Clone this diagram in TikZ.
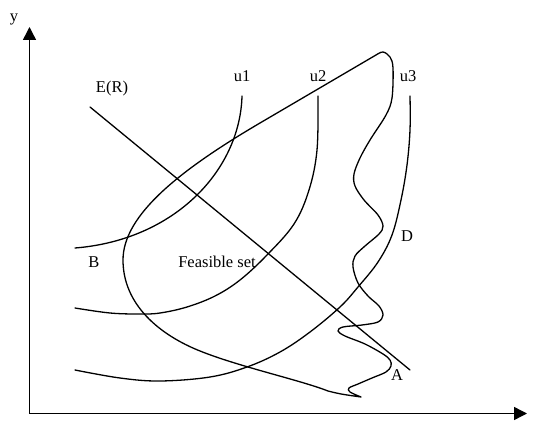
\documentclass[tikz,border=0pt]{standalone}
\usepackage{fontspec}
\setmainfont{Liberation Serif}
\usetikzlibrary{arrows.meta}
\begin{document}
\begin{tikzpicture}[x=1pt,y=-1pt,
  curve/.style={line width=1.3pt,line join=round,line cap=round},
  axis/.style={line width=1.4pt,-{Triangle[length=13pt,width=13pt]}},
  lbl/.style={anchor=base,inner sep=0pt,font=\fontsize{16.5}{18}\selectfont}]
\useasboundingbox (0,0) rectangle (534,430);
% axes
\coordinate (O) at (29.5,413.5);
\coordinate (Ytip) at (29.5,27);
\coordinate (Xtip) at (527,413.5);
\draw[axis] (O) -- (Ytip);
\draw[axis] (O) -- (Xtip);
\node[lbl] (ylab) at (14,22) {y};
% E(R) line
\coordinate (E1) at (90,107);
\coordinate (E2) at (410,370);
\draw[curve] (E1) -- (E2);
\node[lbl] (ER) at (112,93) {E(R)};
% indifference curves
\draw[curve] (242,96) .. controls (240,170) and (175,240) .. (75,248);
\draw[curve] plot[smooth,tension=0.6] coordinates {(318,96) (317,150) (309,190) (294,224) (267,255) (240,280) (215,296) (187,307) (160,313) (140,314) (110,313) (75,308)};
\draw[curve] plot[smooth,tension=0.6] coordinates {(410,96) (410,130) (407,165) (401,200) (392,235) (378,262) (358,287) (340,307) (310,332) (280,352) (247,367) (210,377) (160,381) (120,378) (75,370)};
\node[lbl] (u1) at (242,82) {u1};
\node[lbl] (u2) at (318,82) {u2};
\node[lbl] (u3) at (408,82) {u3};
% feasible set
\draw[curve] (376,55) -- (260,123)
  .. controls (180,170) and (123,215) .. (123,260)
  .. controls (123,305) and (160,335) .. (200,351)
  .. controls (240,367) and (300,380) .. (328,391)
  .. controls (340,394) .. (361,397)
  -- plot[smooth,tension=0.55] coordinates {
 (361,397) (350,392) (349,388) (358,384) (372,378) (386,372) (391,366) (390,360) (383,354) (365,344) (345,336) (338,331) (343,327) (362,325) (378,322) (383,315) (379,306) (368,296) (358,283) (353,267) (355,256) (365,246) (379,234) (383,226) (378,215) (364,200) (355,186) (354,174) (360,158) (370,140) (386,115) (392,98) (393,68) (390,57) (383,52) (376,55)};
\node[lbl] (fs) at (217,267) {Feasible set};
\node[lbl] (B) at (94,267) {B};
\node[lbl] (D) at (407,241) {D};
\node[lbl] (A) at (397,380) {A};
\end{tikzpicture}
\end{document}
